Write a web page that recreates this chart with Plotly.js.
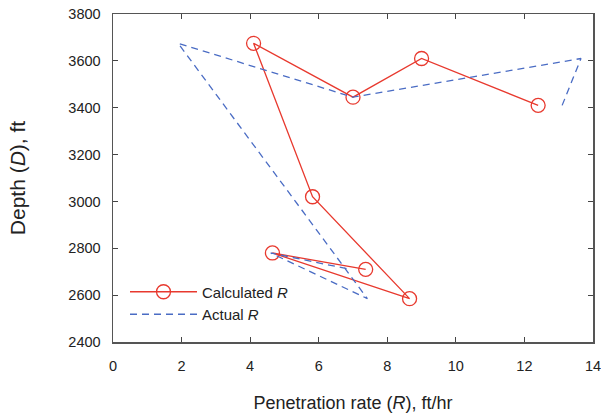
<!DOCTYPE html>
<html>
<head>
<meta charset="utf-8">
<script src="https://cdn.plot.ly/plotly-3.0.1.min.js"></script>
<style>html,body{margin:0;padding:0;background:#fff;}#chart{width:601px;height:419px;}</style>
</head>
<body>
<div id="chart"></div>
<script>
// Depth (ft) shared by both series
const depth = [3410, 3610, 3445, 3675, 3020, 2585, 2780, 2710];
// Calculated penetration rate (ft/hr)
const calculatedR = [12.4, 9.0, 7.0, 4.1, 5.82, 8.65, 4.65, 7.37];
// Actual penetration rate (ft/hr)
const actualR = [13.1, 13.65, 7.0, 1.9, 5.22, 7.42, 4.6, 6.92];
const xTicks = [0, 2, 4, 6, 8, 10, 12, 14];
const yTicks = [2400, 2600, 2800, 3000, 3200, 3400, 3600, 3800];

const FONT = 'Liberation Sans, Arial, sans-serif';

const traces = [
  {
    x: calculatedR, y: depth, type: 'scatter', mode: 'lines+markers',
    name: 'Calculated <i>R</i>',
    line: {color: '#e8392e', width: 1.3},
    marker: {symbol: 'circle-open', size: 14, color: '#e8392e', line: {width: 1.3, color: '#e8392e'}}
  },
  {
    x: actualR, y: depth, type: 'scatter', mode: 'lines',
    name: 'Actual <i>R</i>',
    line: {color: '#4a6cc4', width: 1.3, dash: '7px,5px'}
  }
];

const axisCommon = {
  showgrid: false, zeroline: false, showline: true, mirror: 'ticks',
  linecolor: '#555', linewidth: 1.5, ticks: 'inside', ticklen: 5, tickwidth: 1, tickcolor: '#444',
  tickfont: {family: FONT, size: 14.5, color: '#222'},
  ticklabeloverflow: 'allow'
};

const layout = {
  width: 601, height: 419,
  margin: {l: 113, r: 8, t: 14, b: 77},
  paper_bgcolor: '#fff', plot_bgcolor: '#fff',
  showlegend: true,
  legend: {
    x: 0.025, y: 0.035, xanchor: 'left', yanchor: 'bottom',
    bgcolor: 'rgba(0,0,0,0)', borderwidth: 0,
    font: {family: FONT, size: 15, color: '#222'},
    itemwidth: 67
  },
  xaxis: Object.assign({}, axisCommon, {
    range: [0, 14], tickvals: xTicks, ticklabelstandoff: 10,
    title: {text: 'Penetration rate (<i>R</i>), ft/hr', standoff: 23,
      font: {family: FONT, size: 18, color: '#222'}}
  }),
  yaxis: Object.assign({}, axisCommon, {
    range: [2400, 3800], tickvals: yTicks, ticklabelstandoff: 8,
    title: {text: 'Depth (<i>D</i>), ft', standoff: 37,
      font: {family: FONT, size: 21, color: '#222'}}
  })
};

Plotly.newPlot('chart', traces, layout, {displayModeBar: false, staticPlot: true});
</script>
</body>
</html>
